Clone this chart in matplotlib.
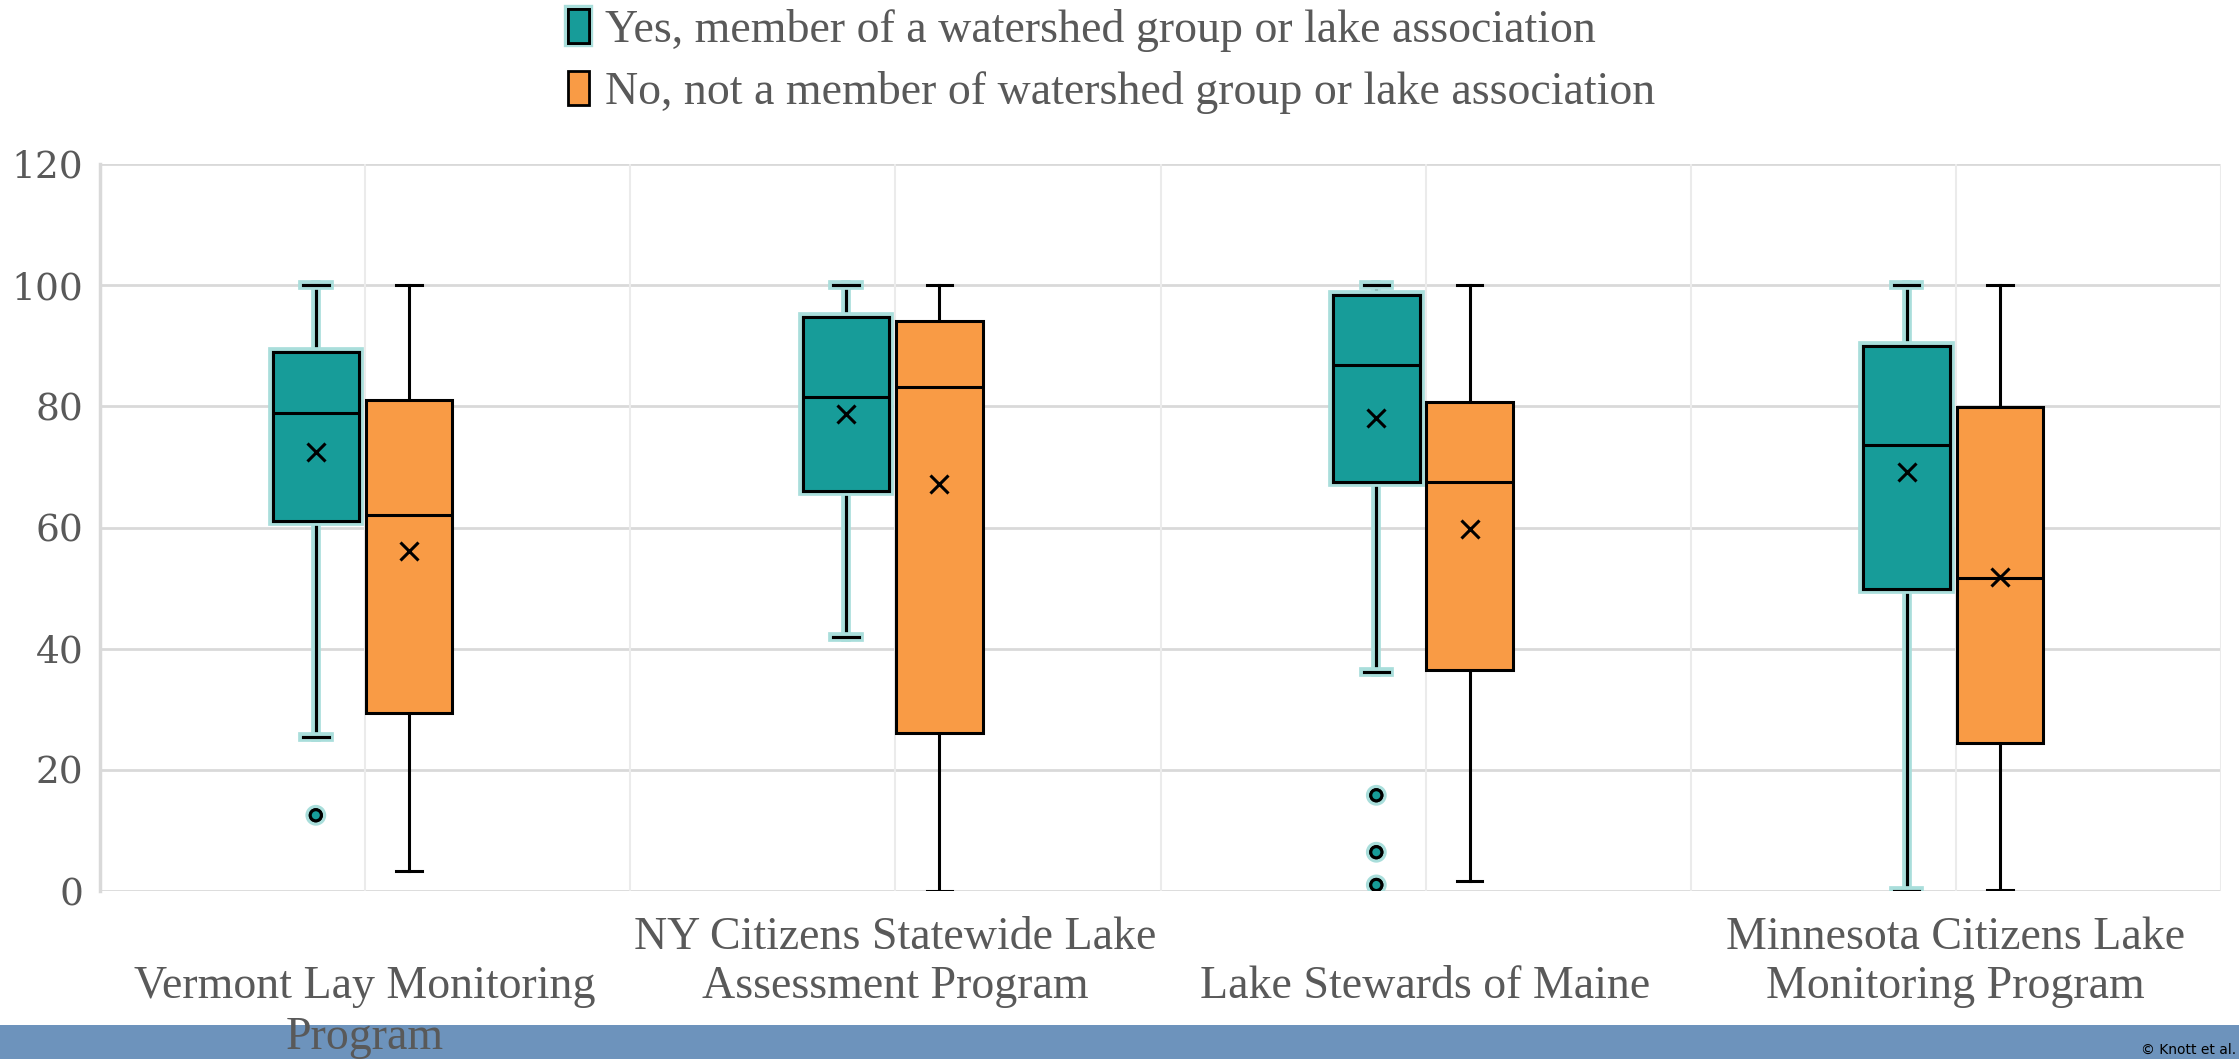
import matplotlib
matplotlib.use("Agg")
import matplotlib.pyplot as plt
import matplotlib.patheffects as pe
from matplotlib.patches import Patch, Rectangle
import numpy as np

# ---- data ----
categories = ["Vermont Lay Monitoring\nProgram",
              "NY Citizens Statewide Lake\nAssessment Program",
              "Lake Stewards of Maine",
              "Minnesota Citizens Lake\nMonitoring Program"]
label_first_row = [1, 0, 1, 0]
series_names = ["Yes, member of a watershed group or lake association",
                "No, not a member of watershed group or lake association"]

yes_whislo = [25.5, 42.0, 36.2, 0.0]
yes_q1 = [61.0, 66.0, 67.5, 49.8]
yes_med = [78.9, 81.6, 86.8, 73.6]
yes_q3 = [89.0, 94.7, 98.4, 89.9]
yes_whishi = [100, 100, 100, 100]
yes_mean = [72.4, 78.8, 78.1, 69.1]
yes_fliers = [[12.5], [], [15.8, 6.4, 1.0], []]

no_whislo = [3.3, 0.0, 1.7, 0.2]
no_q1 = [29.4, 26.0, 36.5, 24.4]
no_med = [62.1, 83.2, 67.5, 51.7]
no_q3 = [81.1, 94.1, 80.7, 79.9]
no_whishi = [100, 100, 100, 100]
no_mean = [56.2, 67.2, 59.7, 51.9]
no_fliers = [[], [], [], []]

yticks = [0, 20, 40, 60, 80, 100, 120]

# ---- figure ----
W, H = 2239, 1059
fig = plt.figure(figsize=(W / 100, H / 100), dpi=100)
ax = fig.add_axes([100 / W, 1 - 891 / H, (2221 - 100) / W, (891 - 164) / H])

teal = "#179C99"
orange = "#F99B45"
glow = "#A9DEDB"
gray_txt = "#595959"


def stats(wl, q1, md, q3, wh, mn, fl):
    return [dict(whislo=a, q1=b, med=c, q3=d, whishi=e, mean=f, fliers=g)
            for a, b, c, d, e, f, g in zip(wl, q1, md, q3, wh, mn, fl)]


x = np.arange(len(categories))
width = 0.163
glow_fx = [pe.withStroke(linewidth=7, foreground=glow)]

for st, off, col, is_yes in [
    (stats(yes_whislo, yes_q1, yes_med, yes_q3, yes_whishi, yes_mean, yes_fliers), -0.093, teal, True),
    (stats(no_whislo, no_q1, no_med, no_q3, no_whishi, no_mean, no_fliers), 0.083, orange, False),
]:
    bp = ax.bxp(st, positions=x + off, widths=width, patch_artist=True,
                showmeans=True, meanline=False, showfliers=True,
                boxprops=dict(facecolor=col, edgecolor="black", linewidth=2.2),
                medianprops=dict(color="black", linewidth=2.2),
                whiskerprops=dict(color="black", linewidth=2.2),
                capprops=dict(color="black", linewidth=2.2),
                capwidths=0.048,
                meanprops=dict(marker="x", markeredgecolor="black", markersize=13,
                               markeredgewidth=2.2),
                flierprops=dict(marker="o", markerfacecolor=col, markeredgecolor="black",
                                markersize=8, markeredgewidth=2.2))
    if is_yes:
        for key in ["boxes", "whiskers", "caps", "fliers"]:
            for art in bp[key]:
                art.set_path_effects(glow_fx + [pe.Normal()])
    for art in bp["boxes"] + bp["medians"] + bp["means"]:
        art.set_zorder(4)
    for art in bp["whiskers"] + bp["caps"] + bp["fliers"]:
        art.set_zorder(3)

ax.set_xlim(-0.5, len(categories) - 0.5)
ax.set_ylim(0, 120)
ax.set_yticks(yticks)
ax.set_yticklabels([str(t) for t in yticks], family="DejaVu Serif", fontsize=27, color=gray_txt)
ax.tick_params(axis="y", length=0, pad=12)
ax.set_xticks([])

# grid lines
for t in yticks:
    ax.axhline(t, color="#D9D9D9", linewidth=2, zorder=0)
for v in np.arange(-0.5, len(categories), 0.5):
    ax.axvline(v, color="#EBEBEB", linewidth=1.5, zorder=0)
for s in ["top", "right", "bottom"]:
    ax.spines[s].set_visible(False)
ax.spines["left"].set_color("#D9D9D9")
ax.spines["left"].set_linewidth(2.5)

# bottom blue band
fig.patches.append(Rectangle((0, 0), 1, (H - 1025) / H, transform=fig.transFigure,
                             facecolor="#6D93BC", edgecolor="none", zorder=0))
fig.text(2236 / W, 2 / H, "© Knott et al.", fontsize=10, color="black",
         ha="right", va="bottom", family="DejaVu Sans")

# category labels
row_y = [938, 987, 1038]
for i, lab in enumerate(categories):
    xf = ax.transData.transform((x[i], 0))[0] / W
    for j, line in enumerate(lab.split("\n")):
        r = label_first_row[i] + j
        fig.text(xf, 1 - row_y[r] / H, line, ha="center", va="center",
                 family="Liberation Serif", fontsize=33, color=gray_txt, zorder=5)

# legend
handles = [Patch(facecolor=teal, edgecolor="black", linewidth=2),
           Patch(facecolor=orange, edgecolor="black", linewidth=2)]
handles[0].set_path_effects([pe.withStroke(linewidth=6, foreground=glow), pe.Normal()])
fig.legend(handles, series_names, loc="upper left",
           bbox_to_anchor=(568 / W, 1 - 9 / H), frameon=False,
           prop=dict(family="Liberation Serif", size=33),
           labelcolor=gray_txt, handlelength=0.45, handleheight=0.75,
           handletextpad=0.35, labelspacing=0.42, borderpad=0, borderaxespad=0)

fig.savefig("out.png", dpi=100)
